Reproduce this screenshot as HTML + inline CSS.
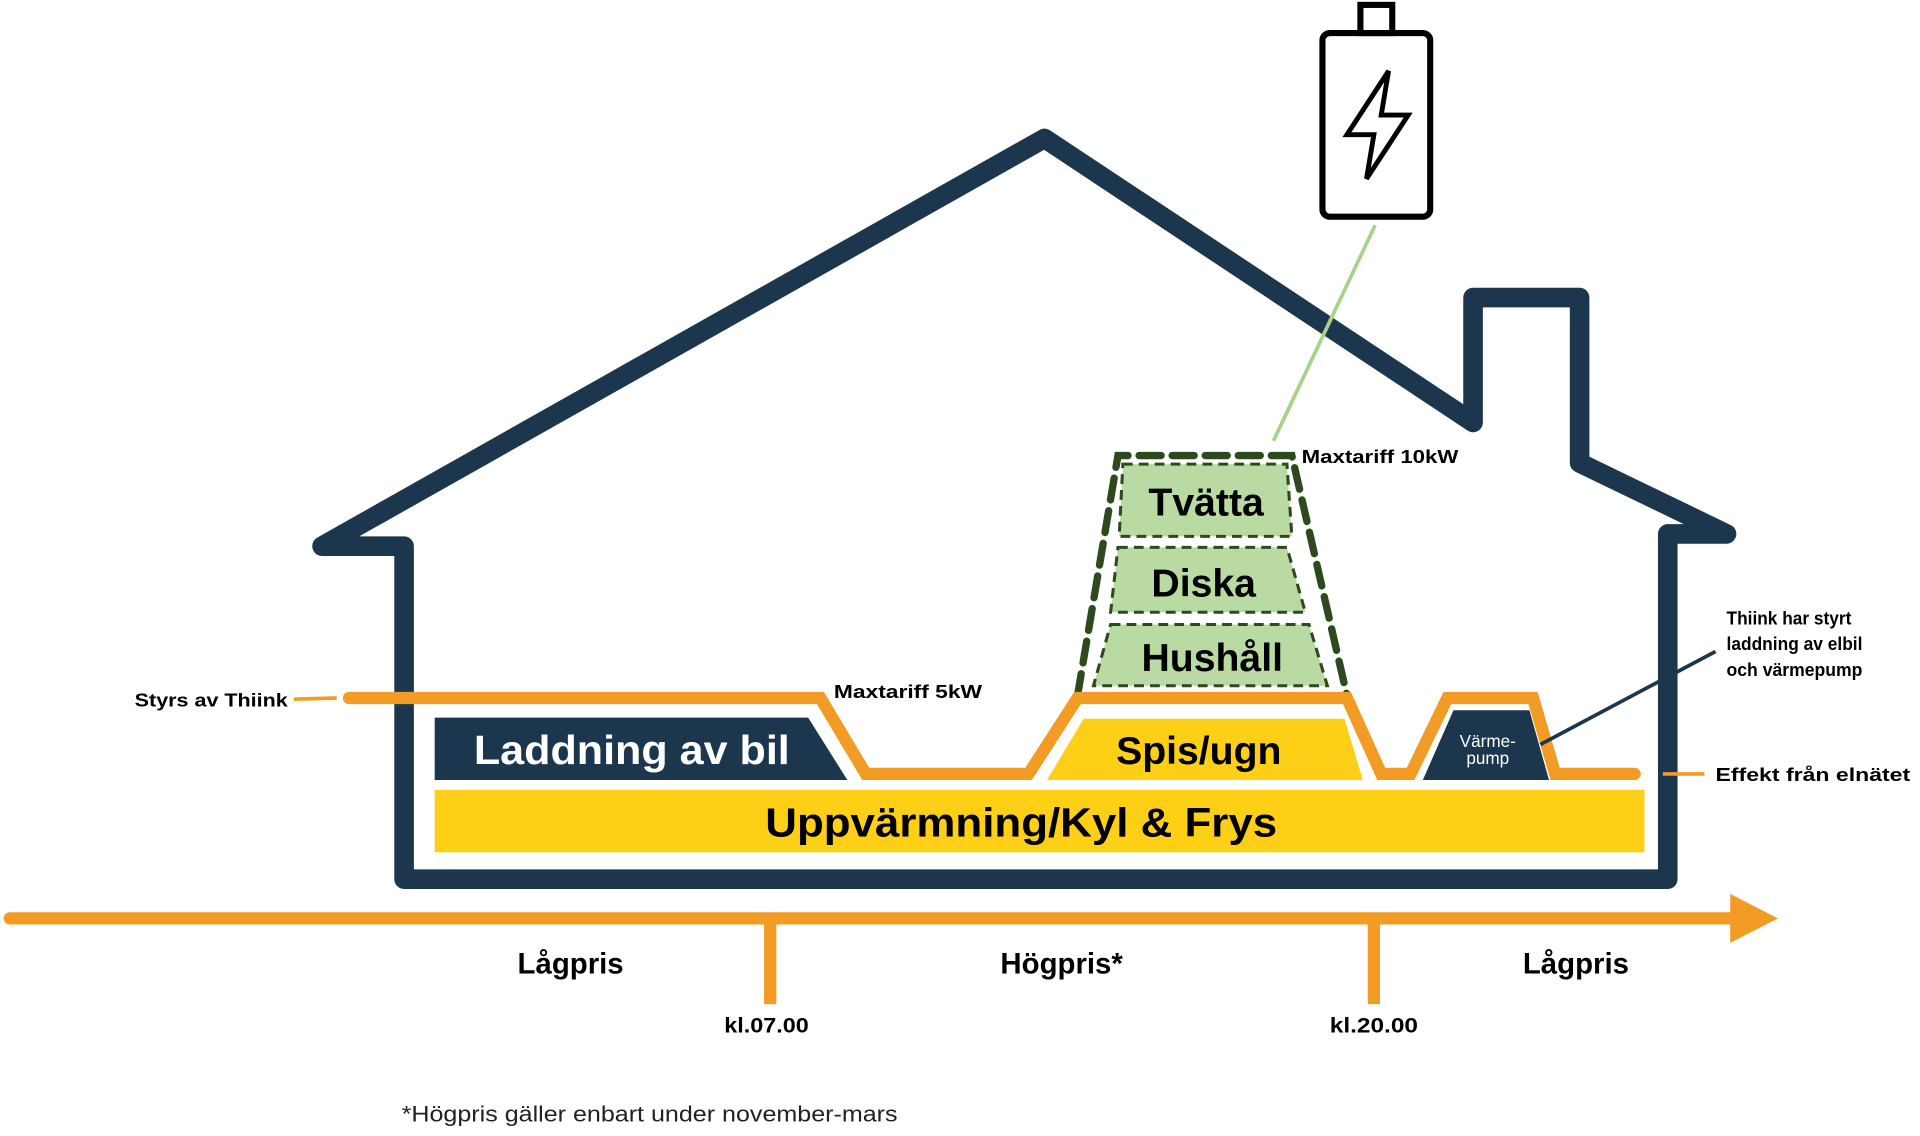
<!DOCTYPE html>
<html><head><meta charset="utf-8"><style>html,body{margin:0;padding:0;background:#fff}svg{display:block}</style></head>
<body>
<svg width="1920" height="1136" viewBox="0 0 1568 927.7" preserveAspectRatio="none" xmlns="http://www.w3.org/2000/svg" font-family="Liberation Sans, sans-serif">
<rect width="1568" height="928" fill="#fff"/>
<path d="M1362,718 L330,718 L330,446 L263,446 L853,113 L1203,345 L1203,243 L1290,243 L1290,378 L1410,436 L1362,436 Z" fill="none" stroke="#1b364d" stroke-width="16" stroke-linejoin="round" stroke-linecap="round"/>
<rect x="1080" y="27" width="88" height="150" rx="6" fill="none" stroke="#000" stroke-width="5"/>
<rect x="1111" y="4" width="26" height="23" fill="none" stroke="#000" stroke-width="5"/>
<path d="M1134,58 L1100,110 L1122,110 L1116,146 L1150,94 L1128,94 Z" fill="none" stroke="#000" stroke-width="4" stroke-linejoin="miter"/>
<line x1="1123" y1="184" x2="1040" y2="360" stroke="#a8d28a" stroke-width="3"/>
<path d="M917,379 L1051,379 L1055,438 L914,438 Z" fill="#b9dba3" stroke="#2d4a1e" stroke-width="2.5" stroke-dasharray="8,5"/>
<path d="M913,447 L1051,447 L1066,500 L907,500 Z" fill="#b9dba3" stroke="#2d4a1e" stroke-width="2.5" stroke-dasharray="8,5"/>
<path d="M907,510 L1069,510 L1084,560 L893,560 Z" fill="#b9dba3" stroke="#2d4a1e" stroke-width="2.5" stroke-dasharray="8,5"/>
<path d="M880,568 L913,372 L1055,372 L1100,568" fill="none" stroke="#2d4a1e" stroke-width="6" stroke-dasharray="18,9" stroke-linecap="round"/>
<text x="985" y="421" font-size="32" font-weight="bold" text-anchor="middle">Tvätta</text>
<text x="983" y="487" font-size="32" font-weight="bold" text-anchor="middle">Diska</text>
<text x="990" y="548" font-size="32" font-weight="bold" text-anchor="middle">Hushåll</text>
<text x="1063" y="378" font-size="15" font-weight="bold" textLength="128" lengthAdjust="spacingAndGlyphs">Maxtariff 10kW</text>
<path d="M355,586 L660,586 L692,637 L355,637 Z" fill="#1b364d"/>
<text x="516" y="624" font-size="33" font-weight="bold" fill="#fff" text-anchor="middle" textLength="258" lengthAdjust="spacingAndGlyphs">Laddning av bil</text>
<path d="M885,587 L1098,587 L1113,637 L855,637 Z" fill="#fdd017"/>
<text x="979" y="624" font-size="32" font-weight="bold" text-anchor="middle">Spis/ugn</text>
<path d="M1187,580 L1249,580 L1265,637 L1162,637 Z" fill="#1b364d"/>
<text x="1215" y="610" font-size="14" fill="#fff" text-anchor="middle">Värme-</text>
<text x="1215" y="624" font-size="14" fill="#fff" text-anchor="middle">pump</text>
<rect x="355" y="645" width="988" height="51" fill="#fdd017"/>
<text x="834" y="683" font-size="33" font-weight="bold" text-anchor="middle" textLength="418" lengthAdjust="spacingAndGlyphs">Uppvärmning/Kyl &amp; Frys</text>
<path d="M285,570 L670,570 L707,632 L840,632 L880,570 L1100,570 L1128,632 L1152,632 L1182,570 L1252,570 L1270,632 L1335,632" fill="none" stroke="#f39c25" stroke-width="10" stroke-linecap="round" stroke-linejoin="miter"/>
<text x="681" y="570" font-size="15" font-weight="bold" textLength="121" lengthAdjust="spacingAndGlyphs">Maxtariff 5kW</text>
<line x1="240" y1="571" x2="275" y2="570" stroke="#f39c25" stroke-width="3"/>
<text x="110" y="577" font-size="15" font-weight="bold" textLength="125" lengthAdjust="spacingAndGlyphs">Styrs av Thiink</text>
<line x1="1358" y1="632" x2="1392" y2="632" stroke="#f39c25" stroke-width="3"/>
<text x="1401" y="638" font-size="15" font-weight="bold" textLength="159" lengthAdjust="spacingAndGlyphs">Effekt från elnätet</text>
<line x1="1258" y1="608" x2="1401" y2="532" stroke="#1b364d" stroke-width="3"/>
<text x="1410" y="510" font-size="15" font-weight="bold" textLength="102" lengthAdjust="spacingAndGlyphs">Thiink har styrt</text>
<text x="1410" y="531" font-size="15" font-weight="bold" textLength="111" lengthAdjust="spacingAndGlyphs">laddning av elbil</text>
<text x="1410" y="552" font-size="15" font-weight="bold" textLength="111" lengthAdjust="spacingAndGlyphs">och värmepump</text>
<line x1="8" y1="750" x2="1418" y2="750" stroke="#f39c25" stroke-width="10" stroke-linecap="round"/>
<path d="M1413,730 L1452,750 L1413,770 Z" fill="#f39c25"/>
<line x1="629" y1="752" x2="629" y2="820" stroke="#f39c25" stroke-width="10"/>
<line x1="1122" y1="752" x2="1122" y2="820" stroke="#f39c25" stroke-width="10"/>
<text x="466" y="795" font-size="24" font-weight="bold" text-anchor="middle">Lågpris</text>
<text x="867" y="795" font-size="24" font-weight="bold" text-anchor="middle">Högpris*</text>
<text x="1287" y="795" font-size="24" font-weight="bold" text-anchor="middle">Lågpris</text>
<text x="626" y="843" font-size="17" font-weight="bold" text-anchor="middle" textLength="69" lengthAdjust="spacingAndGlyphs">kl.07.00</text>
<text x="1122" y="843" font-size="17" font-weight="bold" text-anchor="middle" textLength="72" lengthAdjust="spacingAndGlyphs">kl.20.00</text>
<text x="328" y="916" font-size="18" fill="#222" textLength="405" lengthAdjust="spacingAndGlyphs">*Högpris gäller enbart under november-mars</text>
</svg>
</body></html>
